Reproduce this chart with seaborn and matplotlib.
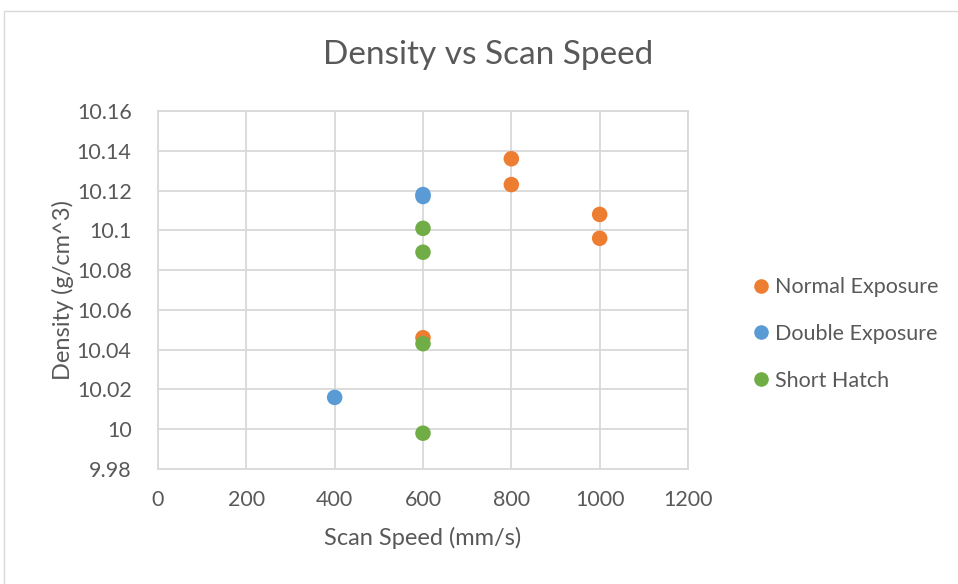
import matplotlib
matplotlib.use("Agg")
import matplotlib.pyplot as plt
import seaborn as sns
import pandas as pd
from matplotlib.lines import Line2D

# Data
normal_speed = [800, 800, 1000, 1000, 600]
normal_density = [10.136, 10.123, 10.108, 10.096, 10.046]
double_speed = [600, 600, 400]
double_density = [10.118, 10.117, 10.016]
short_speed = [600, 600, 600, 600]
short_density = [10.101, 10.089, 10.043, 9.998]

series_names = ["Normal Exposure", "Double Exposure", "Short Hatch"]
colors = ["#ED7D31", "#5B9BD5", "#70AD47"]
x_ticks = [0, 200, 400, 600, 800, 1000, 1200]
y_ticks = [9.98, 10.0, 10.02, 10.04, 10.06, 10.08, 10.1, 10.12, 10.14, 10.16]
y_tick_labels = ["9.98", "10", "10.02", "10.04", "10.06", "10.08", "10.1", "10.12", "10.14", "10.16"]

df = pd.DataFrame({
    "speed": normal_speed + double_speed + short_speed,
    "density": normal_density + double_density + short_density,
    "series": [series_names[0]] * len(normal_speed)
              + [series_names[1]] * len(double_speed)
              + [series_names[2]] * len(short_speed),
})

sns.set_theme(style="white")
plt.rcParams["font.family"] = ["Lato", "DejaVu Sans"]
text_color = "#595959"
grid_color = "#D9D9D9"

fig = plt.figure(figsize=(9.58, 5.84), dpi=100)
ax = fig.add_axes([158 / 958, 1 - 469 / 584, (688 - 158) / 958, (469 - 111) / 584])

sns.scatterplot(data=df, x="speed", y="density", hue="series",
                hue_order=series_names, palette=colors, s=125,
                edgecolor="none", linewidth=0, ax=ax, legend=False, zorder=3)

ax.set_xlim(0, 1200)
ax.set_ylim(9.98, 10.16)
ax.set_xticks(x_ticks)
ax.set_xticklabels([str(t) for t in x_ticks])
ax.set_yticks(y_ticks)
ax.set_yticklabels(y_tick_labels)
ax.grid(True, color=grid_color, linewidth=1.3)
ax.set_axisbelow(True)
for sp in ax.spines.values():
    sp.set_color(grid_color)
    sp.set_linewidth(1.3)
ax.tick_params(axis="both", length=0, labelsize=15.5, colors=text_color)
ax.tick_params(axis="y", pad=19)
ax.tick_params(axis="x", pad=15)

ax.set_xlabel("Scan Speed (mm/s)", fontsize=17, color=text_color, labelpad=12)
ax.set_ylabel("Density (g/cm^3)", fontsize=17, color=text_color, labelpad=2)
fig.text(488 / 958, 1 - 55 / 584, "Density vs Scan Speed", ha="center", va="center",
         fontsize=24, color=text_color)

handles = [Line2D([0], [0], marker="o", linestyle="none", markersize=10.5,
                  markerfacecolor=c, markeredgecolor="none") for c in colors]
leg = fig.legend(handles, series_names, loc="center left",
                 bbox_to_anchor=(729 / 958, 1 - 334 / 584), frameon=False,
                 fontsize=15.5, labelspacing=1.25, handletextpad=0.05,
                 handlelength=1.2)
for t in leg.get_texts():
    t.set_color(text_color)

# chart border
fig.add_artist(plt.Rectangle((4 / 958, -0.01), 1.0, 1 - 11 / 584 + 0.01,
                             transform=fig.transFigure, fill=False,
                             edgecolor="#D9D9D9", linewidth=1))

fig.savefig("out.png", dpi=100, facecolor="white")
